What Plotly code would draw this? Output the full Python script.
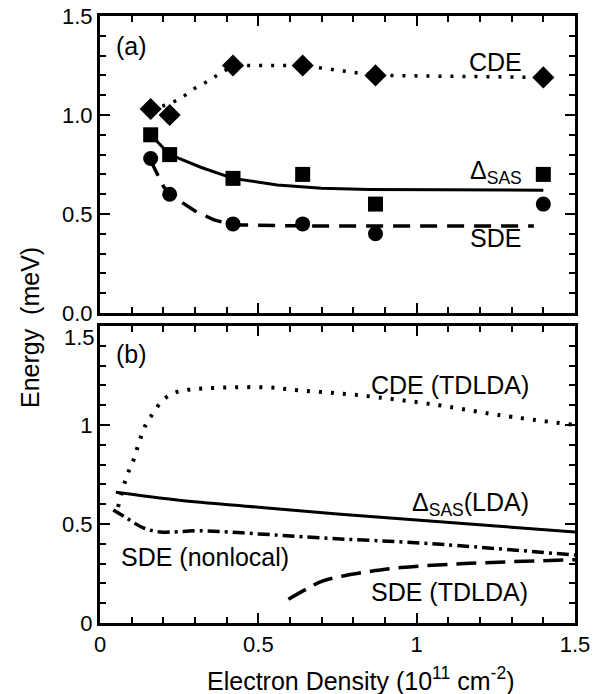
import plotly.graph_objects as go

# ---- Panel (a): measured points ----
x_meas = [0.16, 0.22, 0.42, 0.64, 0.87, 1.40]
cde_meas = [1.03, 1.00, 1.25, 1.25, 1.20, 1.19]
das_meas = [0.90, 0.80, 0.68, 0.70, 0.55, 0.70]
sde_meas = [0.78, 0.60, 0.45, 0.45, 0.40, 0.55]

# guide-to-the-eye curves in panel (a)
cde_fit_x = [0.16, 0.22, 0.26, 0.30, 0.34, 0.38, 0.42, 0.64, 0.87, 1.40]
cde_fit_y = [1.03, 1.055, 1.09, 1.135, 1.17, 1.21, 1.25, 1.25, 1.20, 1.19]
das_fit_x = [0.16, 0.22, 0.32, 0.42, 0.56, 0.70, 0.85, 1.0, 1.40]
das_fit_y = [0.90, 0.80, 0.735, 0.68, 0.646, 0.63, 0.624, 0.622, 0.62]
sde_fit_x = [0.16, 0.20, 0.22, 0.26, 0.30, 0.36, 0.42, 0.64, 1.37]
sde_fit_y = [0.77, 0.64, 0.60, 0.555, 0.515, 0.47, 0.445, 0.44, 0.44]

# ---- Panel (b): theory curves ----
cde_td_x = [0.057, 0.084, 0.105, 0.126, 0.147, 0.168, 0.195, 0.23, 0.274, 0.33, 0.42, 0.53, 0.63, 0.82, 1.07, 1.26, 1.5]
cde_td_y = [0.586, 0.74, 0.82, 0.925, 1.01, 1.06, 1.12, 1.16, 1.177, 1.185, 1.19, 1.19, 1.175, 1.15, 1.10, 1.05, 1.00]
das_lda_x = [0.05, 0.25, 0.5, 0.75, 1.0, 1.25, 1.5]
das_lda_y = [0.66, 0.62, 0.585, 0.55, 0.52, 0.49, 0.46]
sde_nl_x = [0.042, 0.084, 0.137, 0.19, 0.316, 0.5, 0.695, 1.05, 1.5]
sde_nl_y = [0.571, 0.53, 0.48, 0.46, 0.466, 0.45, 0.43, 0.40, 0.343]
sde_td_x = [0.595, 0.65, 0.70, 0.76, 0.85, 0.95, 1.15, 1.5]
sde_td_y = [0.12, 0.17, 0.21, 0.235, 0.26, 0.28, 0.30, 0.32]

# tick labels
x_tickvals = [0, 0.5, 1, 1.5]
x_ticktext = ["0", "0.5", "1", "1.5"]
ya_tickvals = [0, 0.5, 1.0, 1.5]
ya_ticktext = ["0.0", "0.5", "1.0", "1.5"]
yb_tickvals = [0, 0.5, 1, 1.5]
yb_ticktext = ["0", "0.5", "1", ""]
yb_top_label = "1.5"

FONT = "Liberation Sans, Arial, Helvetica, sans-serif"
BLACK = "black"
TICK_SIZE = 22

# page body margin is removed (post_script), so figure pixels == screen pixels
FIG_W, FIG_H = 611, 694
PX_L, PX_R = 100, 575          # plot area left/right (px)
PY_T, PY_B = 16, 623           # plot area top/bottom (px)
PY_A_BOT, PY_B_TOP = 313, 326  # panel (a) bottom, panel (b) top
W = PX_R - PX_L
H = PY_B - PY_T


def px_x(sx):
    return (sx - PX_L) / W


def px_y(sy):
    return (PY_B - sy) / H


fig = go.Figure()

# panel (a) lines
fig.add_trace(go.Scatter(x=cde_fit_x, y=cde_fit_y, mode="lines", xaxis="x2", yaxis="y2",
                         line=dict(color=BLACK, width=3.5, dash="3px,9px")))
fig.add_trace(go.Scatter(x=das_fit_x, y=das_fit_y, mode="lines", xaxis="x2", yaxis="y2",
                         line=dict(color=BLACK, width=3)))
fig.add_trace(go.Scatter(x=sde_fit_x, y=sde_fit_y, mode="lines", xaxis="x2", yaxis="y2",
                         line=dict(color=BLACK, width=3.5, dash="17px,10px")))
# panel (a) markers
fig.add_trace(go.Scatter(x=x_meas, y=cde_meas, mode="markers", xaxis="x2", yaxis="y2",
                         marker=dict(symbol="diamond", size=17, color=BLACK)))
fig.add_trace(go.Scatter(x=x_meas, y=das_meas, mode="markers", xaxis="x2", yaxis="y2",
                         marker=dict(symbol="square", size=15, color=BLACK)))
fig.add_trace(go.Scatter(x=x_meas, y=sde_meas, mode="markers", xaxis="x2", yaxis="y2",
                         marker=dict(symbol="circle", size=15, color=BLACK)))

# panel (b)
fig.add_trace(go.Scatter(x=cde_td_x, y=cde_td_y, mode="lines", line_shape="spline",
                         line=dict(color=BLACK, width=4, dash="3px,9px")))
fig.add_trace(go.Scatter(x=das_lda_x, y=das_lda_y, mode="lines", line_shape="spline",
                         line=dict(color=BLACK, width=3)))
fig.add_trace(go.Scatter(x=sde_nl_x, y=sde_nl_y, mode="lines", line_shape="spline",
                         line=dict(color=BLACK, width=3.5, dash="12px,5px,3px,5px")))
fig.add_trace(go.Scatter(x=sde_td_x, y=sde_td_y, mode="lines", line_shape="spline",
                         line=dict(color=BLACK, width=3.5, dash="20px,9px")))

axis_common = dict(range=[0, 1.5], showline=True, linewidth=3, linecolor=BLACK, mirror="ticks",
                   ticks="inside", ticklen=10, tickwidth=2, tickcolor=BLACK, showgrid=False,
                   zeroline=False, automargin=False, ticklabeloverflow="allow",
                   tickfont=dict(family=FONT, size=TICK_SIZE, color=BLACK),
                   minor=dict(dtick=0.1, ticks="inside", ticklen=6, tickwidth=1.5, tickcolor=BLACK,
                              showgrid=False))

fig.update_layout(
    width=FIG_W, height=FIG_H,
    margin=dict(l=PX_L, r=FIG_W - PX_R, t=PY_T, b=FIG_H - PY_B, autoexpand=False),
    paper_bgcolor="white", plot_bgcolor="white", showlegend=False, hovermode=False,
    xaxis=dict(domain=[0, 1], anchor="y", tickvals=x_tickvals, ticktext=x_ticktext, **axis_common),
    yaxis=dict(domain=[0, (PY_B - PY_B_TOP) / H], anchor="x", tickvals=yb_tickvals,
               ticktext=yb_ticktext, **axis_common),
    xaxis2=dict(domain=[0, 1], anchor="y2", matches="x", showticklabels=False,
                tickvals=x_tickvals, **axis_common),
    yaxis2=dict(domain=[(PY_B - PY_A_BOT) / H, 1], anchor="x2", tickvals=ya_tickvals,
                ticktext=ya_ticktext, **axis_common),
)

lab = dict(family=FONT, size=25, color=BLACK)
ann = [
    dict(x=0.10, y=1.35, xref="x2", yref="y2", text="(a)"),
    dict(x=1.25, y=1.27, xref="x2", yref="y2", text="CDE"),
    dict(x=1.25, y=0.71, xref="x2", yref="y2", text="Δ<sub>SAS</sub>"),
    dict(x=1.25, y=0.38, xref="x2", yref="y2", text="SDE"),
    dict(x=0.10, y=1.36, xref="x", yref="y", text="(b)"),
    dict(x=1.105, y=1.20, xref="x", yref="y", text="CDE (TDLDA)"),
    dict(x=1.17, y=0.60, xref="x", yref="y", text="Δ<sub>SAS</sub>(LDA)"),
    dict(x=0.33, y=0.335, xref="x", yref="y", text="SDE (nonlocal)"),
    dict(x=1.105, y=0.158, xref="x", yref="y", text="SDE (TDLDA)"),
]
for a in ann:
    fig.add_annotation(showarrow=False, font=lab, xanchor="center", yanchor="middle", **a)

# bottom-panel "1.5" label (sits slightly below its tick, as in the original)
fig.add_annotation(x=px_x(97), y=px_y(337), xref="paper", yref="paper", text=yb_top_label,
                   showarrow=False, xanchor="right", yanchor="middle",
                   font=dict(family=FONT, size=TICK_SIZE, color=BLACK))

# axis titles
fig.add_annotation(x=px_x(360), y=px_y(679), xref="paper", yref="paper", showarrow=False,
                   text="Electron Density (10<sup>11</sup> cm<sup>-2</sup>)", font=lab,
                   xanchor="center", yanchor="middle")
fig.add_annotation(x=px_x(30), y=px_y(328), xref="paper", yref="paper", showarrow=False,
                   text="Energy  (meV)", font=lab, textangle=-90,
                   xanchor="center", yanchor="middle")

fig.write_html("out.html", config={"displayModeBar": False},
               post_script="document.body.style.margin='0';")
